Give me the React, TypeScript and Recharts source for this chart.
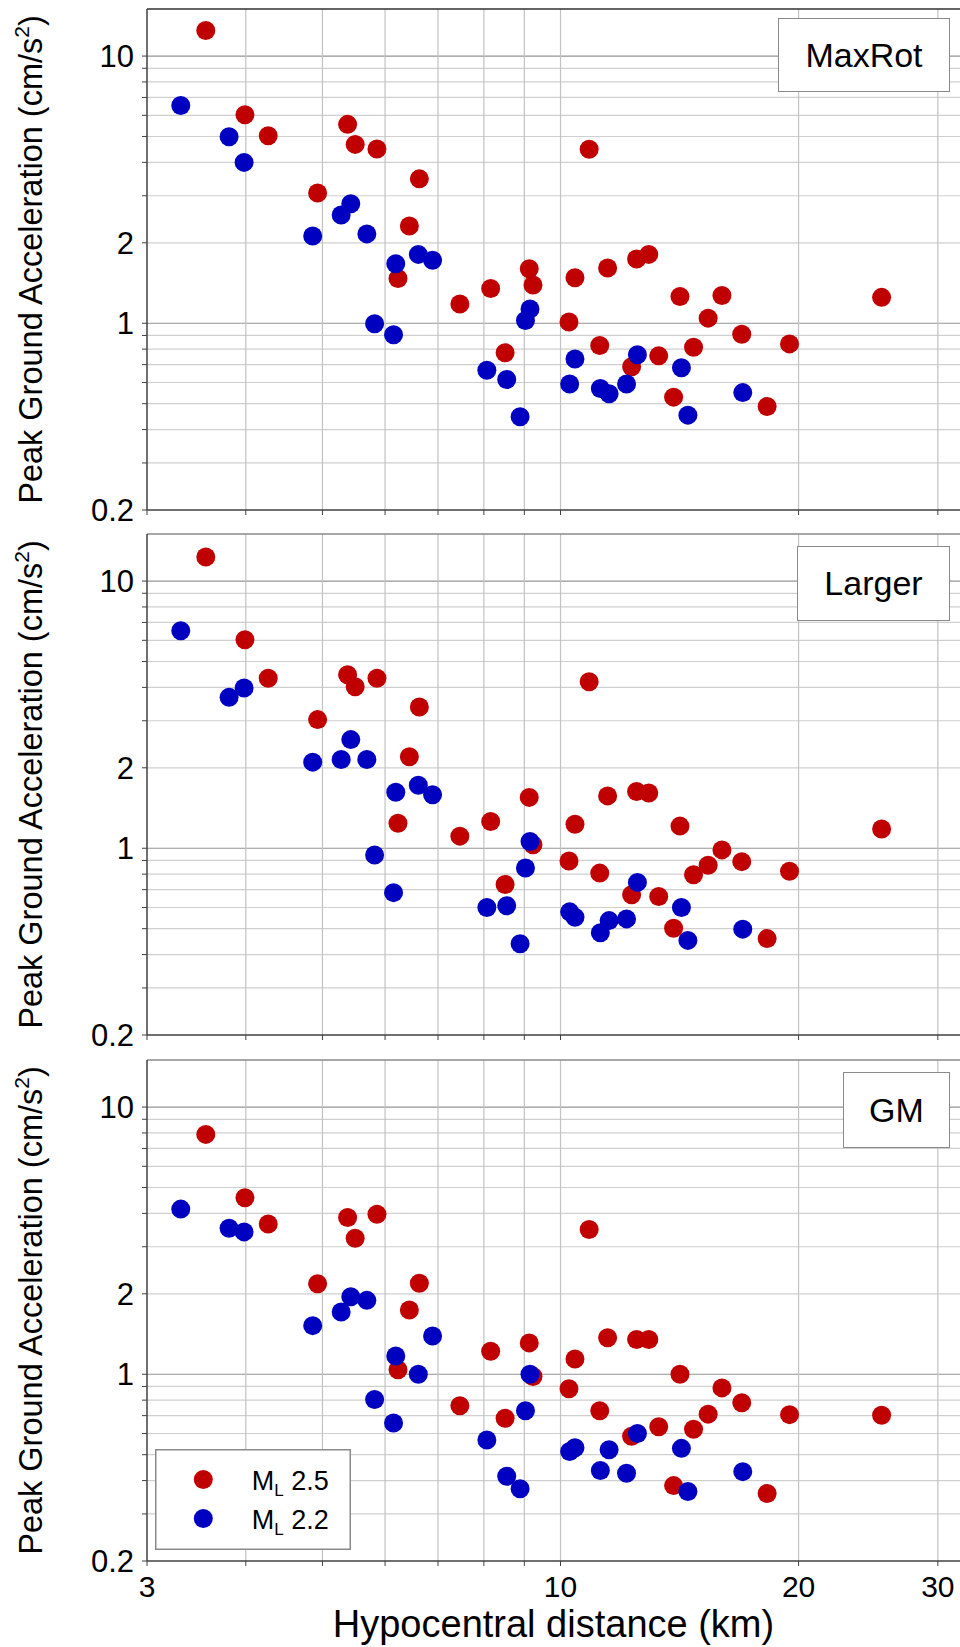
import React from 'react';
import { ScatterChart, Scatter, XAxis, YAxis, ReferenceLine } from 'recharts';

const FONT = 'Arial, "Liberation Sans", Helvetica, sans-serif';

// Hypocentral distances (km)
const redDist = [3.56, 3.99, 4.27, 5.38, 5.5, 5.86, 4.93, 6.63, 6.44, 6.23, 7.46, 8.16, 9.13, 9.23, 10.87, 10.43, 10.25, 8.51, 11.21, 11.47, 12.48, 12.93, 12.3, 13.31, 14.16, 13.9, 14.73, 15.37, 16.0, 16.95, 18.25, 19.48, 25.47];
const blueDist = [3.31, 3.81, 3.98, 4.86, 5.28, 5.43, 5.69, 6.19, 6.61, 6.89, 5.82, 6.15, 8.07, 8.55, 8.89, 9.15, 9.03, 10.43, 10.27, 11.23, 11.52, 12.12, 12.51, 14.22, 14.49, 17.0];

// PGA (cm/s^2) per panel
const maxRotRed = [12.46, 6.03, 5.03, 5.55, 4.67, 4.49, 3.07, 3.47, 2.31, 1.47, 1.18, 1.35, 1.6, 1.39, 4.48, 1.48, 1.01, 0.775, 0.825, 1.61, 1.74, 1.81, 0.687, 0.755, 1.26, 0.529, 0.813, 1.045, 1.27, 0.91, 0.488, 0.837, 1.25];
const maxRotBlue = [6.53, 4.99, 4.0, 2.12, 2.54, 2.8, 2.16, 1.67, 1.81, 1.72, 0.995, 0.905, 0.667, 0.616, 0.447, 1.13, 1.024, 0.735, 0.592, 0.57, 0.545, 0.592, 0.762, 0.681, 0.453, 0.55];
const largerRed = [12.31, 6.03, 4.33, 4.46, 4.02, 4.33, 3.03, 3.38, 2.2, 1.24, 1.11, 1.26, 1.55, 1.03, 4.2, 1.23, 0.896, 0.732, 0.807, 1.57, 1.63, 1.61, 0.67, 0.66, 1.21, 0.502, 0.796, 0.863, 0.986, 0.891, 0.459, 0.82, 1.18];
const largerBlue = [6.52, 3.67, 3.98, 2.1, 2.15, 2.55, 2.15, 1.62, 1.72, 1.585, 0.943, 0.682, 0.6, 0.609, 0.439, 1.06, 0.844, 0.552, 0.578, 0.483, 0.536, 0.544, 0.745, 0.6, 0.452, 0.498];
const gmRed = [7.9, 4.58, 3.65, 3.86, 3.23, 3.97, 2.18, 2.19, 1.74, 1.04, 0.762, 1.22, 1.31, 0.98, 3.48, 1.14, 0.883, 0.684, 0.73, 1.37, 1.35, 1.35, 0.586, 0.636, 1.0, 0.383, 0.622, 0.709, 0.889, 0.782, 0.358, 0.706, 0.702];
const gmBlue = [4.15, 3.52, 3.41, 1.52, 1.71, 1.95, 1.89, 1.17, 1.0, 1.39, 0.805, 0.657, 0.567, 0.415, 0.373, 1.0, 0.73, 0.531, 0.514, 0.436, 0.522, 0.426, 0.6, 0.528, 0.364, 0.432];

const seriesNames = ['2.5', '2.2'];
const seriesColors = ['#c00000', '#0000c0'];
const panelTitles = ['MaxRot', 'Larger', 'GM'];

const xTicks = [3, 4, 5, 6, 7, 8, 9, 10, 20, 30];
const xLabels = [3, 10, 20, 30];
const xGrid = [4, 5, 6, 7, 8, 9, 10, 20, 30];
const yTicks = [0.2, 0.3, 0.4, 0.5, 0.6, 0.7, 0.8, 0.9, 1, 2, 3, 4, 5, 6, 7, 8, 9, 10];
const yLabels = [0.2, 1, 2, 10];
const yGrid = [0.3, 0.4, 0.5, 0.6, 0.7, 0.8, 0.9, 1, 2, 3, 4, 5, 6, 7, 8, 9, 10];
const yMajor = [1, 10];
const xDomain = [3, 32];
const yDomain = [0.2, 15];

const toPts = (xs: number[], ys: number[]) => xs.map((x, i) => ({ x, y: ys[i] }));

const panels = [
  { title: panelTitles[0], red: maxRotRed, blue: maxRotBlue, top: 0, height: 535, xAxisH: 25, border: '#303030', box: { left: 778, top: 18, width: 172, height: 74 } },
  { title: panelTitles[1], red: largerRed, blue: largerBlue, top: 525, height: 535, xAxisH: 25, border: '#8a8a8a', box: { left: 797, top: 546, width: 153, height: 75 } },
  { title: panelTitles[2], red: gmRed, blue: gmBlue, top: 1051, height: 596, xAxisH: 86, border: '#8a8a8a', box: { left: 843, top: 1072, width: 107, height: 76 } },
];

const YTitle = (props: any) => {
  const vb = props.viewBox || { x: 0, y: 9, width: 147, height: 501 };
  const cx = 41.5;
  const cy = vb.y + vb.height / 2;
  return (
    <text x={cx} y={cy} transform={`rotate(-90 ${cx} ${cy})`} textAnchor="middle" fontSize={32.5} fontFamily={FONT} fill="#000">
      Peak Ground Acceleration (cm/s<tspan dy={-13} fontSize={21}>2</tspan><tspan dy={13}>)</tspan>
    </text>
  );
};

const XTitle = (props: any) => {
  const vb = props.viewBox || { x: 147, y: 510, width: 813, height: 86 };
  return (
    <text x={vb.x + vb.width / 2} y={vb.y + 76} textAnchor="middle" fontSize={38} fontFamily={FONT} fill="#000">
      Hypocentral distance (km)
    </text>
  );
};

const dot = (color: string) => (p: any) => <circle cx={p.cx} cy={p.cy} r={9.5} fill={color} />;

function Panel({ p, showX }: { p: any; showX: boolean }) {
  return (
    <div style={{ position: 'absolute', left: 0, top: p.top }}>
      <ScatterChart width={960} height={p.height} margin={{ top: 9, right: 0, bottom: 0, left: 0 }}>
        <XAxis
          type="number"
          dataKey="x"
          scale="log"
          domain={xDomain}
          allowDataOverflow
          ticks={xTicks}
          interval={0}
          height={p.xAxisH}
          tickSize={5}
          tickMargin={10}
          tickFormatter={(v: number) => (showX && xLabels.includes(v) ? String(v) : '')}
          tick={{ fill: '#000', fontSize: 30, fontFamily: FONT }}
          axisLine={{ stroke: '#404040', strokeWidth: 1.5 }}
          tickLine={{ stroke: '#404040' }}
          label={showX ? XTitle : undefined}
        />
        <YAxis
          type="number"
          dataKey="y"
          scale="log"
          domain={yDomain}
          allowDataOverflow
          ticks={yTicks}
          interval={0}
          width={147}
          tickSize={5}
          tickMargin={8}
          tickFormatter={(v: number) => (yLabels.includes(v) ? String(v) : '')}
          tick={{ fill: '#000', fontSize: 31, fontFamily: FONT }}
          axisLine={{ stroke: '#404040', strokeWidth: 1.5 }}
          tickLine={{ stroke: '#404040' }}
          label={YTitle}
        />
        {yGrid.map((v) => (
          <ReferenceLine key={'h' + v} y={v} stroke={yMajor.includes(v) ? '#959595' : '#cfcfcf'} strokeWidth={1.2} />
        ))}
        {xGrid.map((v) => (
          <ReferenceLine key={'v' + v} x={v} stroke="#c2c2c2" strokeWidth={1.2} />
        ))}
        <ReferenceLine y={yDomain[1]} stroke={p.border} strokeWidth={1.5} />
        <Scatter name={seriesNames[0]} data={toPts(redDist, p.red)} fill={seriesColors[0]} shape={dot(seriesColors[0])} isAnimationActive={false} />
        <Scatter name={seriesNames[1]} data={toPts(blueDist, p.blue)} fill={seriesColors[1]} shape={dot(seriesColors[1])} isAnimationActive={false} />
      </ScatterChart>
    </div>
  );
}

export default function App() {
  return (
    <div style={{ position: 'absolute', left: 0, top: 0, width: 960, height: 1647, overflow: 'hidden', background: '#fff', fontFamily: FONT }}>
      {panels.map((p, i) => (
        <Panel key={p.title} p={p} showX={i === 2} />
      ))}
      {panels.map((p) => (
        <div
          key={'box' + p.title}
          style={{
            position: 'absolute', left: p.box.left, top: p.box.top, width: p.box.width, height: p.box.height,
            boxSizing: 'border-box', border: '1.5px solid #8a8a8a', background: '#fff',
            display: 'flex', alignItems: 'center', justifyContent: 'center', fontSize: 34, color: '#000',
          }}
        >
          {p.title}
        </div>
      ))}
      <div style={{ position: 'absolute', left: 155, top: 1449, width: 196, height: 101 }}>
        <svg width={196} height={101}>
          <rect x={0.75} y={0.75} width={194.5} height={99.5} fill="#fff" stroke="#8a8a8a" strokeWidth={1.5} />
          {seriesNames.map((n, i) => (
            <g key={n}>
              <circle cx={48.3} cy={30.5 + i * 39} r={9.5} fill={seriesColors[i]} />
              <text x={96.7} y={40.5 + i * 39} fontSize={27} fontFamily={FONT} fill="#000">
                M<tspan dy={6} fontSize={17}>L</tspan><tspan dy={-6}>{' ' + n}</tspan>
              </text>
            </g>
          ))}
        </svg>
      </div>
    </div>
  );
}
